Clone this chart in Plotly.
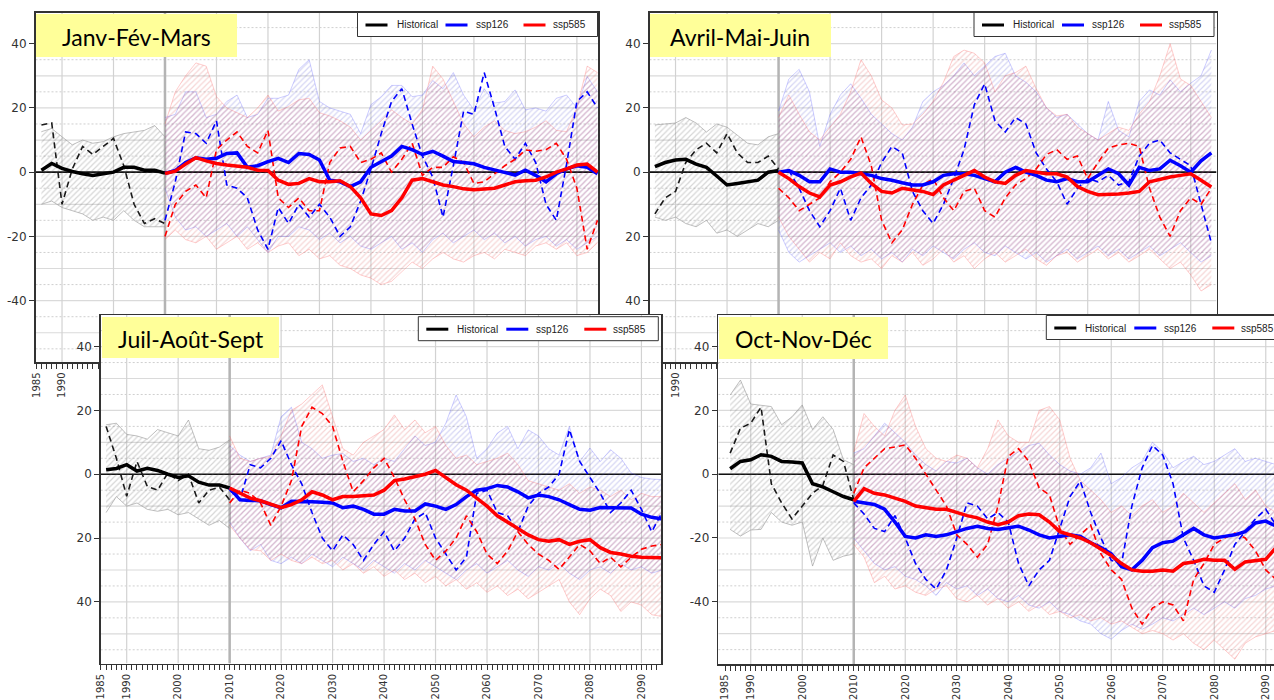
import plotly.graph_objects as go

W, H = 1274, 700

# ---------------- data ----------------
YEARS_HIST = list(range(1986, 2011, 2))
YEARS_FUT = list(range(2010, 2095, 2))
X_TICKS = [1985] + list(range(1990, 2091, 10))
Y_TICKS = [-40, -20, 0, 20, 40]
SEASONS = ["Janv-Fév-Mars", "Avril-Mai-Juin", "Juil-Août-Sept", "Oct-Nov-Déc"]
SERIES_NAMES = ["Historical", "ssp126", "ssp585"]

# Janv-Fév-Mars
JFM_HIST_UP = [12.6, 13.6, 11, 8.5, 10, 9, 9.5, 11, 12, 12.5, 13, 14.5, 11]
JFM_HIST_LO = [-10, -9, -11, -12, -13, -15, -14, -15, -12, -15, -17, -17, -17]
JFM_HIST_MEAN = [0.6, 2.7, 1.2, 0.2, -0.5, -1, -0.5, 0, 1.5, 1.5, 0.6, 0.6, -0.3]
JFM_HIST_DASH = [14.7, 15.3, -10, 1, 8, 5.5, 8, 10.5, 2, -10, -16, -14.5, -16]
JFM_126_MEAN = [-0.4, 0.5, 3, 4.5, 4, 4.3, 5.8, 6, 1.5, 2, 3.3, 4.3, 3, 5.8, 5.5, 3.8, -2.5, -3, -4.5, -3, 1.5, 3.3, 5, 8, 7, 5.5, 6.5, 5, 3.3, 3, 2.6, 1.5, 0.7, 0, -0.9, 0.6, -1, -3, -0.5, 1, 2, 1.5, -0.5]
JFM_585_MEAN = [-0.4, 0.3, 2.5, 4.5, 3.5, 2.7, 2.2, 1.8, 1.5, 0.6, 0.5, -2.5, -3.8, -3.5, -2, -3, -3, -2.7, -4.5, -8, -13, -13.5, -12, -8, -2.5, -2, -3, -4, -4.5, -5.2, -5.5, -5.2, -5, -4, -3, -2.7, -2.5, -1.5, 0, 1, 2.2, 2.5, 0]
JFM_126_DASH = [-15, -3, 12.5, 12, 9, 16, -4, -5, -8, -18, -24, -11, -16, -10, -14, -10, -14, -20, -17, -9, 1, 12, 22, 26, 15, 5, -1.5, -14, 2, 19, 18, 31, 20, 8, 4, 9, 3, -10, -15, 2.5, 22, 25, 20]
JFM_585_DASH = [-20, -10, -6, -4, -8, 7, 10, 12.5, 8, 6, 13, -8, -11, -8, -12, -12, 3, 7.5, 8, 3, 4, 6, 0, 4, 9, -1, 1.5, 1.5, 4.8, 3, -3.5, -3, -0.5, 2, 4, 6.9, 6.5, 7, 9, 4, -5, -24, -15]
JFM_126_UP = [17, 18, 25, 25, 17, 18, 22, 24, 17, 18, 23, 23, 24, 32, 35, 22, 20, 19, 18, 12, 21, 23.5, 27, 27, 23.5, 24, 28.5, 26, 31, 24, 19.4, 26, 21.5, 22, 25.6, 19.4, 20, 19, 23, 24, 20, 29.8, 25]
JFM_126_LO = [-5, -14, -18, -17, -20, -18, -16, -20, -17, -21, -25, -20, -20, -17, -18, -21, -19, -22, -20, -23, -24, -22, -20, -24, -22, -25, -21, -19, -22, -20, -18, -21, -19, -22, -20, -23, -21, -20, -23, -21, -24, -22, -20]
JFM_585_UP = [15, 25, 30, 34, 33, 23.5, 20, 18.5, 17, 20, 24, 19, 20.4, 22.5, 23, 18.5, 17.5, 16, 14, 10, 13, 16, 19.4, 17, 15, 19.4, 33, 29, 22, 15, 11, 14, 16, 13, 12, 12.6, 14, 16, 13, 12.6, 20, 33, 31]
JFM_585_LO = [-21, -18, -21, -22, -20, -24, -22, -20, -24, -22, -25, -23, -22, -26, -24, -27, -26, -29, -30, -32, -33, -35, -34, -31, -28, -30, -27, -25, -27, -28, -26, -25, -27, -24, -25, -26, -23, -22, -24, -22, -26, -25, -22]

# Avril-Mai-Juin
AMJ_HIST_UP = [14.7, 15, 15.3, 17, 15.3, 12.5, 15, 14, 11.6, 9, 8.5, 11, 12]
AMJ_HIST_LO = [-14, -15, -14, -16, -17, -15, -19, -18, -20, -18, -16, -17, -15]
AMJ_HIST_MEAN = [1.7, 3, 3.8, 4, 2.5, 1.5, -1.2, -4, -3.5, -3, -2.5, 0, 0.5]
AMJ_HIST_DASH = [-13, -8, -6, 3, 7, 9, 6, 12, 6, 3, 3, 5, 1]
AMJ_126_MEAN = [0, 0.5, -1, -3, -3, 1, 0, 0, -0.5, -1, -2, -2.5, -3.3, -4, -4, -3, -1, -0.5, -0.5, -1, -2, -3, 0, 1.5, 0, -1, -2.5, -3, -2, -3, -3, -1, 1, -0.5, -4, 1.5, 0.5, 1, 3.7, 2, 0, 3.5, 6]
AMJ_585_MEAN = [0, -2, -4.5, -6.5, -7.7, -4, -3, -1.5, -0.3, -3.5, -6, -6.5, -5, -5.5, -6, -7, -4, -2.5, -1, 0.5, -1.5, -3, -3.5, -1, 0.5, 0, -0.5, -0.5, -1.5, -4.5, -6, -7, -7, -6.8, -6.5, -6, -3, -2.2, -1.5, -1, -0.5, -2.5, -4.6]
AMJ_126_DASH = [0, 0.5, -5, -12, -17, -12, -5, -15, -8, -4, 3, 8, 6, -6, -12, -16, -10, -2, 7, 21, 27.5, 16, 12.5, 17, 15, 6, 1, -3, -10, -5, -2, -3, -1, -4, -3, 5, 9, 10, 6, 4, 2, -10, -22]
AMJ_585_DASH = [-5, -8, -12, -10, -8, -3, 0, 4, 11, 2, -15, -22, -18, -10, -4, -2, -8, -12, -6, -5, -12, -14, -8, -4, -2, 1, 5.5, 7, 4, 5, -2, 3, 7.5, 8.5, 9, 8, -5, -14, -20, -12, -8, -10, -5]
AMJ_126_UP = [19, 29, 32, 25, 8, 18, 24, 27.5, 23, 18, 15, 12, 10, 14, 22, 25, 27, 30, 34, 30, 33, 36, 37, 30, 28, 25, 20, 17, 18, 15, 12, 10, 22, 13, 11, 22, 25.6, 24, 28.75, 25, 27.7, 30, 38]
AMJ_126_LO = [-18, -25, -28, -26, -24, -22, -25, -23, -26, -24, -27, -25, -28, -24, -26, -23, -25, -27, -24, -22, -25, -26, -23, -25, -27, -25, -28, -26, -24, -27, -25, -23, -26, -24, -27, -25, -23, -26, -24, -22, -25, -28, -26]
AMJ_585_UP = [17, 24, 18, 12.5, 10, 14, 18, 25, 35, 30, 22.5, 20, 14.7, 15, 18, 22, 28, 36, 38, 37, 34, 25, 30, 31, 33, 26, 20, 17.5, 18, 14, 12, 10, 12, 14, 13, 18, 22, 30, 40, 29, 27, 22, 17]
AMJ_585_LO = [-14, -20, -24, -28, -25, -27, -22, -26, -28, -27, -30, -26, -28, -25, -29, -27, -24, -28, -26, -30, -27, -25, -28, -26, -24, -27, -29, -26, -25, -28, -26, -24, -27, -25, -28, -26, -24, -27, -30, -28, -32, -37, -35]

# Juil-Août-Sept
JAS_HIST_UP = [15.5, 16, 12.5, 12, 11, 14, 13, 12, 17, 8, 7.5, 8.5, 10.8]
JAS_HIST_LO = [-12, -7, -10, -9, -11, -11.6, -11, -12.7, -12, -14, -16, -14.5, -17]
JAS_HIST_MEAN = [1.4, 1.8, 3, 1, 1.9, 1.2, 0, -1, -0.5, -2.5, -3.4, -3.4, -4.3]
JAS_HIST_DASH = [15, 5, -6.9, 4, -3.8, -5, 0.4, -2, 0, -9, -5, -4, -8]
JAS_126_MEAN = [-4.3, -8, -8.2, -8.3, -9.5, -10.5, -8.5, -8.5, -8.6, -8.8, -9, -10.5, -10, -11, -12.5, -12.5, -11, -11.5, -11.5, -9.3, -10, -11, -9.5, -7, -5, -4.5, -3.5, -4, -5.5, -7.4, -6.5, -7, -8, -9.5, -11, -11.3, -10.4, -10.5, -10.5, -10.6, -12.5, -13.5, -14]
JAS_585_MEAN = [-4.3, -6, -7.5, -8.3, -9.5, -10.5, -9.5, -8, -5.5, -6.5, -8, -7, -7, -6.8, -6.5, -5, -2, -1.5, -0.8, 0, 1.2, -1, -3.3, -5, -7.5, -10, -13, -15, -17, -19, -20.5, -21, -20.5, -22, -21, -20.5, -23, -24.5, -25, -25.7, -26, -26, -26.2]
JAS_126_DASH = [-5, -8, 3, 2, 5, 10.5, 3, -3, -12, -20, -24, -19, -22, -27, -22, -18, -24, -20, -14, -12, -20, -25, -30, -26, -6, -5, -12, -13, -18, -10, -6, -4, 0, 14, 4, -1, -6, -12, -9, -5, -11, -18, -12]
JAS_585_DASH = [-9, -5, -6, -9, -16, -10, -2, 15, 21, 19, 15, 4, -5.5, -2, 2, 5, -1, -8, -14, -22, -27, -24, -20, -13, -18, -25, -28, -24, -18, -22, -25, -27, -29.8, -26, -22, -24, -28, -26, -29, -26, -23.5, -22.5, -22]
JAS_126_UP = [9, 6, 4, 5, 6, 18, 21, 10, 8, 5, 6, 6.5, 4, 5, 3, 5, 4, 8, 12, 9, 10, 16, 24.8, 18, 5, 8, 12.9, 15, 8, 13.9, 12, 8, 6, 15, 4, 8.2, 4, 7.7, 5, 0.4, -1, -1.5, -1.7]
JAS_126_LO = [-15, -20, -24, -22, -27, -28, -26, -28, -25, -27, -29, -26, -28, -30, -27, -29, -31, -28, -30, -27, -29, -31, -33, -30, -28, -31, -29, -27, -30, -32, -29, -30, -28, -31, -33, -30, -29, -31, -28, -30, -29, -31, -30]
JAS_585_UP = [12, 5, 4, 5, 5.6, 12, 20, 22, 25, 28, 18, 8, 6, 10, 12, 14, 18.6, 14, 17, 13, 15, 9, 5, 6, 3, 4, 5, 6.6, 3, -2, -3, -4, -5, -3, -6, -4, -5, -7, -5, -8, -6, -7, -7]
JAS_585_LO = [-16, -20, -23.6, -24, -27, -25, -27, -28, -26, -28, -27, -30, -28, -31, -29, -32, -30, -33, -31, -34, -32, -35, -33, -36, -34, -37, -35, -38, -36, -39, -37, -35, -33, -40, -44, -39, -36, -38, -43, -40, -41, -44, -44.6]

# Oct-Nov-Déc
OND_HIST_UP = [24.8, 29.5, 22, 21.5, 21.2, 15.5, 18, 21.7, 14, 18, 14, 4.5, 3]
OND_HIST_LO = [-17.3, -19.4, -17.5, -17.3, -12, -15, -16, -15, -28.8, -20, -27, -25.7, -25]
OND_HIST_MEAN = [1.7, 4, 4.5, 6.1, 5.6, 4, 3.8, 3.5, -3, -4, -5.5, -7, -8]
OND_HIST_DASH = [6.6, 14.4, 16, 21, -3, -9, -14, -10, -6, -3.5, 6, 4, -8]
OND_126_MEAN = [-8.5, -9, -9.5, -11, -15, -19.5, -20, -19, -19.5, -19, -18, -17, -16.3, -17, -17.3, -16.8, -16.3, -17.5, -19, -20, -19.5, -19, -19.5, -21.5, -23, -25, -29, -30, -27, -23, -21.5, -21, -19, -17, -19, -20, -19.5, -19, -18, -15.3, -14.7, -16.3, -16.5]
OND_585_MEAN = [-8.5, -4.5, -6, -6.5, -7.5, -8.5, -10, -10.5, -11, -11, -12, -13, -13.7, -15, -15.8, -15, -13, -12.5, -12.7, -15, -18, -19, -20, -21.5, -23.5, -25.5, -28, -30, -30.4, -30.4, -30, -30.4, -28, -27.5, -26.7, -27, -27, -29.8, -27.5, -27, -26.7, -23, -22]
OND_126_DASH = [-9, -12.5, -17, -18, -13, -20, -28, -33, -36, -30, -20, -9, -10, -14, -12, -15, -28, -35, -30, -27, -17, -7, -2.2, -12, -20, -27, -28, -10, 2, 9, 6, -3, -20, -27, -35, -37, -30, -22, -18, -14, -11, -16, -15]
OND_585_DASH = [-6, 2, 5, 8, 8.5, 9.2, 5, 0, -5, -10, -19, -22, -26, -22, -10, 5.6, 8, 4, -4.3, -6.5, -17, -22, -19, -16, -25, -30, -33, -42, -47, -42, -40, -41, -46, -33, -28, -22, -20, -18.5, -20, -24, -30, -33, -30]
OND_126_UP = [6.6, 8, 12, 16, 13, 10, 6, 3, 1, 4, 3.5, 5, 2, 0, 3, 5, 7, 9, 9.7, 6, 3, 1, 0, 2, 6.6, -3, -1, 2, 4, 10, 7, 2, 4, 5.6, 3, 4, 6, 8, 4, 5, 4, 3, 3]
OND_126_LO = [-20, -24, -28, -30, -29, -32, -33, -35, -38, -34, -36, -35, -38, -36, -39, -40, -38, -41, -42, -40, -43, -44, -46, -47, -50, -51.7, -49, -47, -48.6, -47, -45, -46, -44, -42, -44, -42, -40, -42, -39, -38, -36, -35, -35]
OND_585_UP = [7, 19, 15, 12, 20, 24.8, 15, 8, 5, 4, 6, 5, 2, 8, 17, 12, 10, 10, 20, 21.2, 17, 5, -2, -5, -8, -12, -10, -13, -10, -8, -12, -10, -6, -9, -12, -9, -6, -3, -8, -5, -10, -12, -12]
OND_585_LO = [-22, -26, -34, -32, -36, -35, -37, -38, -36, -35, -39, -40, -38, -41, -39, -42, -40, -43, -41, -44, -43, -45, -44, -46, -45, -47, -46, -48, -50, -49, -50, -52, -50, -53, -55, -52, -55, -58, -53, -51, -50, -49, -49]

PANELS = [
    dict(hist=(JFM_HIST_LO, JFM_HIST_UP, JFM_HIST_MEAN, JFM_HIST_DASH),
         s126=(JFM_126_LO, JFM_126_UP, JFM_126_MEAN, JFM_126_DASH),
         s585=(JFM_585_LO, JFM_585_UP, JFM_585_MEAN, JFM_585_DASH)),
    dict(hist=(AMJ_HIST_LO, AMJ_HIST_UP, AMJ_HIST_MEAN, AMJ_HIST_DASH),
         s126=(AMJ_126_LO, AMJ_126_UP, AMJ_126_MEAN, AMJ_126_DASH),
         s585=(AMJ_585_LO, AMJ_585_UP, AMJ_585_MEAN, AMJ_585_DASH)),
    dict(hist=(JAS_HIST_LO, JAS_HIST_UP, JAS_HIST_MEAN, JAS_HIST_DASH),
         s126=(JAS_126_LO, JAS_126_UP, JAS_126_MEAN, JAS_126_DASH),
         s585=(JAS_585_LO, JAS_585_UP, JAS_585_MEAN, JAS_585_DASH)),
    dict(hist=(OND_HIST_LO, OND_HIST_UP, OND_HIST_MEAN, OND_HIST_DASH),
         s126=(OND_126_LO, OND_126_UP, OND_126_MEAN, OND_126_DASH),
         s585=(OND_585_LO, OND_585_UP, OND_585_MEAN, OND_585_DASH)),
]

# ---------------- layout geometry (pixels) ----------------
PANEL_PX = [(35.5, 598.0, 12.5, 362.0), (649.5, 1216.5, 12.5, 362.0),
            (100.7, 661.0, 315.0, 663.5), (718.3, 1274.0, 315.0, 664.0)]
X_RANGES = [[1984.85, 2094.1], [1984.95, 2095.0], [1984.95, 2093.8], [1983.7, 2091.6]]
Y_RANGES = [[-59.1, 49.7], [-59.1, 49.7], [-59.3, 49.9], [-59.5, 49.9]]
Y_TICKTEXT = [["-40", "-20", "0", "20", "40"], ["40", "20", "0", "20", "40"],
              ["40", "20", "0", "20", "40"], ["-40", "-20", "0", "20", "40"]]
LABEL_BOXES = [(36, 237, 14, 57), (650, 831, 14, 57), (102, 279, 317, 358), (719, 888, 317, 359)]
LEGEND_BOXES = [(357.5, 12.5), (974.0, 12.5), (418.3, 316.7), (1046.3, 315.5)]


def px_x(p):
    return p / W


def px_y(p):
    return 1 - p / H


STYLE = {
    "hist": dict(line="rgba(150,150,150,0.6)", fill="rgba(175,175,175,0.22)", hatch="rgba(105,105,105,0.55)",
                 color="#000000", dash_color="#1a1a1a"),
    "s126": dict(line="rgba(80,80,255,0.28)", fill="rgba(0,0,255,0.05)", hatch="rgba(60,60,200,0.42)",
                 color="#0000FF", dash_color="#0000FF"),
    "s585": dict(line="rgba(255,80,80,0.28)", fill="rgba(255,0,0,0.05)", hatch="rgba(210,60,60,0.42)",
                 color="#FF0000", dash_color="#FF0000"),
}

fig = go.Figure()
shapes = []
annotations = []

for i, pdata in enumerate(PANELS):
    s = "" if i == 0 else str(i + 1)
    xa, ya = "x" + s, "y" + s
    xr, yr = X_RANGES[i], Y_RANGES[i]

    # gridlines
    for v in range(-55, 50, 10):
        shapes.append(dict(type="line", xref=xa, yref=ya, x0=xr[0], x1=xr[1], y0=v, y1=v, layer="below",
                           line=dict(color="#cfcfcf", width=1, dash="2px,2px")))
    for v in range(-50, 50, 10):
        shapes.append(dict(type="line", xref=xa, yref=ya, x0=xr[0], x1=xr[1], y0=v, y1=v, layer="below",
                           line=dict(color="#dadada", width=1.2)))
    for v in range(1990, 2091, 10):
        shapes.append(dict(type="line", xref=xa, yref=ya, x0=v, x1=v, y0=yr[0], y1=yr[1], layer="below",
                           line=dict(color="#d2d2d2", width=1.2)))
    shapes.append(dict(type="line", xref=xa, yref=ya, x0=2010, x1=2010, y0=yr[0], y1=yr[1], layer="below",
                       line=dict(color="#b4b4b4", width=2.5)))
    shapes.append(dict(type="line", xref=xa, yref=ya, x0=xr[0], x1=xr[1], y0=0, y1=0, layer="below",
                       line=dict(color="#111111", width=1.6)))

    series = [("hist", YEARS_HIST), ("s126", YEARS_FUT), ("s585", YEARS_FUT)]
    # ribbons
    for key, xs in series:
        lo, up, _, _ = pdata[key]
        st = STYLE[key]
        fig.add_trace(go.Scatter(x=xs, y=lo, mode="lines", line=dict(color=st["line"], width=1),
                                 xaxis=xa, yaxis=ya, showlegend=False, hoverinfo="skip"))
        fig.add_trace(go.Scatter(x=xs, y=up, mode="lines", line=dict(color=st["line"], width=1),
                                 fill="tonexty", fillcolor=st["fill"],
                                 fillpattern=dict(shape="/", fgcolor=st["hatch"], bgcolor="rgba(0,0,0,0)",
                                                  size=4, solidity=0.3, fillmode="overlay"),
                                 xaxis=xa, yaxis=ya, showlegend=False, hoverinfo="skip"))
    # dashed single runs
    for key, xs in series:
        st = STYLE[key]
        fig.add_trace(go.Scatter(x=xs, y=pdata[key][3], mode="lines",
                                 line=dict(color=st["dash_color"], width=1.6, dash="6px,4px"),
                                 xaxis=xa, yaxis=ya, showlegend=False, hoverinfo="skip"))
    # thick means
    for key, xs in series:
        st = STYLE[key]
        fig.add_trace(go.Scatter(x=xs, y=pdata[key][2], mode="lines",
                                 line=dict(color=st["color"], width=3.5),
                                 xaxis=xa, yaxis=ya, showlegend=False, hoverinfo="skip"))

    # axes
    x0, x1, y0, y1 = PANEL_PX[i]
    fig.layout["xaxis" + s] = dict(
        domain=[px_x(x0), px_x(x1)], range=xr, anchor=ya, automargin=False,
        showline=True, linecolor="#333333", linewidth=1.5, mirror=True,
        tickmode="array", tickvals=X_TICKS, ticktext=[str(v) for v in X_TICKS], tickangle=-90,
        ticks="outside", ticklen=5, tickcolor="#333333", tickwidth=1,
        tickfont=dict(family="DejaVu Sans", size=10, color="#333333"),
        minor=dict(tickmode="array", tickvals=list(range(1985, 2095)), ticks="outside",
                   ticklen=5, tickcolor="#333333", tickwidth=1, showgrid=False),
        showgrid=False, zeroline=False, fixedrange=True)
    fig.layout["yaxis" + s] = dict(
        domain=[px_y(y1), px_y(y0)], range=yr, anchor=xa, automargin=False,
        showline=True, linecolor="#333333", linewidth=1.5, mirror=(i != 3),
        tickmode="array", tickvals=Y_TICKS, ticktext=Y_TICKTEXT[i],
        ticks="outside", ticklen=5, tickcolor="#333333", tickwidth=1,
        tickfont=dict(family="DejaVu Sans", size=12, color="#333333"),
        showgrid=False, zeroline=False, fixedrange=True)

    # season label
    bx0, bx1, by0, by1 = LABEL_BOXES[i]
    shapes.append(dict(type="rect", xref="paper", yref="paper", x0=px_x(bx0), x1=px_x(bx1),
                       y0=px_y(by1), y1=px_y(by0), fillcolor="#FFFF99", line=dict(width=0), layer="above"))
    annotations.append(dict(xref="paper", yref="paper", x=px_x((bx0 + bx1) / 2), y=px_y((by0 + by1) / 2 + 1),
                            text=SEASONS[i], showarrow=False, xanchor="center", yanchor="middle",
                            font=dict(family="Lato", size=23, color="#000000")))

    # legend box
    lx, ly = LEGEND_BOXES[i]
    shapes.append(dict(type="rect", xref="paper", yref="paper", x0=px_x(lx), x1=px_x(lx + 240),
                       y0=px_y(ly + 24), y1=px_y(ly), fillcolor="#FFFFFF",
                       line=dict(color="#333333", width=1), layer="above"))
    yc = ly + 12.5
    offsets = [(8, 30, 37), (88, 110, 116), (166, 188, 193)]
    for (a, b, t), name, key in zip(offsets, SERIES_NAMES, ["hist", "s126", "s585"]):
        shapes.append(dict(type="line", xref="paper", yref="paper", x0=px_x(lx + a), x1=px_x(lx + b),
                           y0=px_y(yc), y1=px_y(yc), line=dict(color=STYLE[key]["color"], width=3), layer="above"))
        annotations.append(dict(xref="paper", yref="paper", x=px_x(lx + t), y=px_y(yc), text=name,
                                showarrow=False, xanchor="left", yanchor="middle",
                                font=dict(family="Liberation Sans", size=10, color="#222222")))

fig.update_layout(width=W, height=H, margin=dict(l=0, r=0, t=0, b=0),
                  paper_bgcolor="white", plot_bgcolor="white", template="none",
                  showlegend=False, shapes=shapes, annotations=annotations,
                  font=dict(family="DejaVu Sans", size=12, color="#333333"))

fig.write_html("out.html", config={"displayModeBar": False, "staticPlot": True},
               post_script="document.body.style.margin='0';document.body.style.padding='0';"
                           "document.body.style.overflow='hidden';")
